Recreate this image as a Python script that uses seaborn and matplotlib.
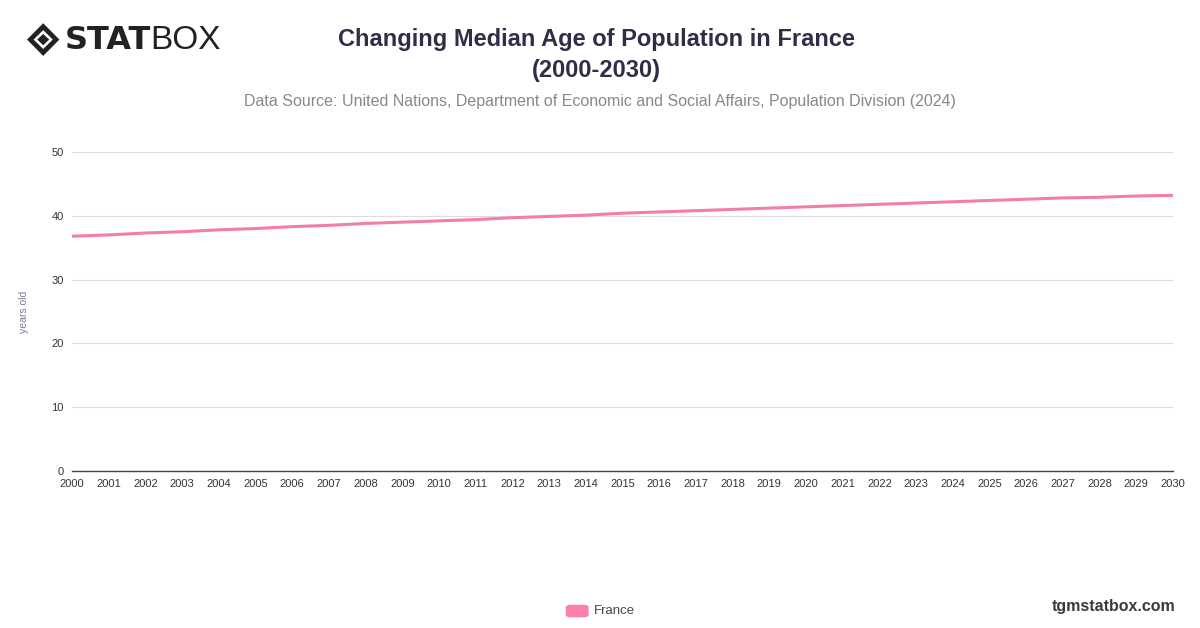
import matplotlib
matplotlib.use("Agg")
import matplotlib.pyplot as plt
import seaborn as sns
import pandas as pd
from matplotlib.patches import Polygon, FancyBboxPatch

# data
years = list(range(2000, 2031))
median_age = [36.8, 37.0, 37.3, 37.5, 37.8, 38.0, 38.3, 38.5, 38.8, 39.0,
              39.2, 39.4, 39.7, 39.9, 40.1, 40.4, 40.6, 40.8, 41.0, 41.2,
              41.4, 41.6, 41.8, 42.0, 42.2, 42.4, 42.6, 42.8, 42.9, 43.1, 43.2]
y_ticks = [0, 10, 20, 30, 40, 50]
country = "France"

df = pd.DataFrame({"year": years, "age": median_age})

sns.set_theme(style="white")
plt.rcParams['font.family'] = ['Liberation Sans', 'DejaVu Sans']

fig = plt.figure(figsize=(12, 6.28), dpi=100)
ax = fig.add_axes([0.06, 0.25, 0.9175, 0.508])

line_color = "#f47ea8"
sns.lineplot(data=df, x="year", y="age", color=line_color, linewidth=2.2, ax=ax)

ax.set_xlim(2000, 2030)
ax.set_ylim(0, 50)
ax.set_xticks(years)
ax.set_xticklabels([str(y) for y in years], fontsize=8, color="#333333")
ax.set_yticks(y_ticks)
ax.set_yticklabels([str(t) for t in y_ticks], fontsize=8, color="#333333")
ax.tick_params(axis="both", length=0, pad=6)
ax.grid(axis="y", color="#dddddd", linewidth=0.8)
for s in ["top", "right", "left"]:
    ax.spines[s].set_visible(False)
ax.spines["bottom"].set_color("#444444")
ax.spines["bottom"].set_linewidth(1.0)
ax.set_xlabel("")
ax.set_ylabel("years old", fontsize=7.5, color="#7a7a9a")
ax.yaxis.set_label_coords(-0.039, 0.5)

# titles
fig.text(0.497, 0.937, "Changing Median Age of Population in France", ha="center", va="center",
         fontsize=17, fontweight="bold", color="#2e2e48")
fig.text(0.497, 0.887, "(2000-2030)", ha="center", va="center",
         fontsize=17, fontweight="bold", color="#2e2e48")
fig.text(0.5, 0.839, "Data Source: United Nations, Department of Economic and Social Affairs, Population Division (2024)",
         ha="center", va="center", fontsize=11.5, color="#888888")

# logo
outer = Polygon([[0.0225, 0.937], [0.036, 0.963], [0.0495, 0.937], [0.036, 0.911]],
                closed=True, transform=fig.transFigure, facecolor="#222222", edgecolor="none")
inner = Polygon([[0.028, 0.937], [0.036, 0.952], [0.044, 0.937], [0.036, 0.922]],
                closed=True, transform=fig.transFigure, facecolor="white", edgecolor="none")
core = Polygon([[0.031, 0.937], [0.036, 0.946], [0.041, 0.937], [0.036, 0.928]],
               closed=True, transform=fig.transFigure, facecolor="#222222", edgecolor="none")
for p in (outer, inner, core):
    fig.patches.append(p)
fig.text(0.054, 0.936, "STAT", ha="left", va="center", fontsize=23, fontweight="heavy",
         color="#222222", family=["DejaVu Sans"])
fig.text(0.1255, 0.936, "BOX", ha="left", va="center", fontsize=24, color="#222222",
         family=["Liberation Sans"])

# legend
fig.patches.append(FancyBboxPatch((0.4725, 0.018), 0.017, 0.018, boxstyle="round,pad=0.001,rounding_size=0.004",
                                  transform=fig.transFigure, facecolor="#fa7fab", edgecolor="none"))
fig.text(0.495, 0.027, country, ha="left", va="center", fontsize=9.5, color="#444444")

fig.text(0.98, 0.035, "tgmstatbox.com", ha="right", va="center", fontsize=11.5,
         fontweight="bold", color="#3a3a3a")

fig.savefig("out.png", dpi=100)
